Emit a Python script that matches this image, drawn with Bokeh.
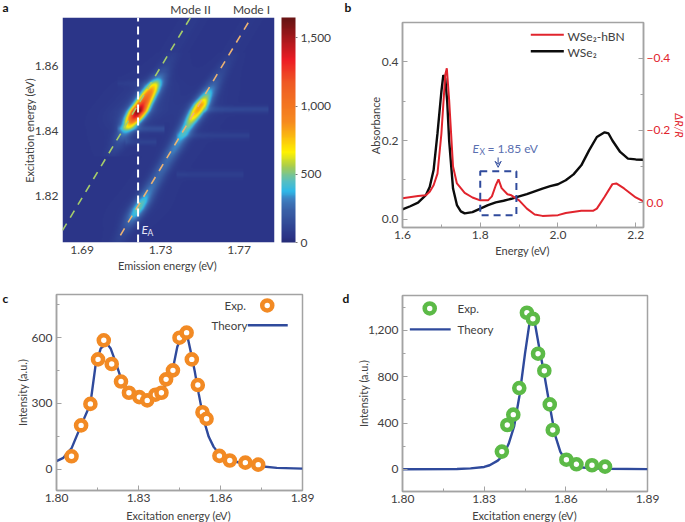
from bokeh.plotting import figure
from bokeh.layouts import row, column
from bokeh.embed import file_html
from bokeh.resources import INLINE
from bokeh.core.properties import value
from bokeh.models import (Range1d, LinearAxis, FixedTicker, NumeralTickFormatter,
                          LinearColorMapper, ColorBar, Arrow, VeeHead)
import numpy as np

FONT = "Lato"
TXT = "#404040"
GREY = "#a3a3a3"
BLUE = "#2f4a9c"
RED = "#e1242d"
ORANGE = "#f28a24"
GREEN = "#5cba47"
SOFT = "#5a6fb0"
PALE = "#e8e8f8"
DARK = "#111111"
MARK_SIZE = 10
MARK_WIDTH = 4.6

# panel a: ridge intensity vs excitation energy
mode1_exc = [1.804, 1.808, 1.810, 1.812, 1.814, 1.816, 1.818, 1.820, 1.822, 1.824, 1.826, 1.828, 1.830, 1.832, 1.834,
             1.836, 1.838, 1.840, 1.842, 1.844, 1.846, 1.848, 1.850, 1.852, 1.854, 1.856, 1.858, 1.860, 1.864]
mode1_amp = [30, 70, 110, 210, 340, 430, 400, 300, 240, 210, 190, 200, 200, 220, 260,
             280, 320, 400, 470, 620, 770, 790, 520, 340, 200, 120, 80, 60, 20]
mode2_exc = [1.832, 1.836, 1.838, 1.840, 1.842, 1.844, 1.846, 1.848, 1.850, 1.852, 1.854, 1.856, 1.858, 1.860, 1.864]
mode2_amp = [30, 100, 200, 330, 750, 1280, 1600, 1250, 1050, 880, 640, 300, 130, 70, 30]
streak_exc = [1.8465, 1.8385, 1.8265, 1.8405, 1.8365, 1.8545]
streak_lo = [1.752, 1.738, 1.738, 1.708, 1.712, 1.708]
streak_hi = [1.785, 1.775, 1.772, 1.732, 1.728, 1.722]
streak_amp = [75, 45, 40, 90, 50, 25]
cmap_values = [0, 40, 240, 315, 375, 450, 560, 660, 880, 1170, 1340, 1630]
cmap_colors = ["#262d78", "#2b3487", "#3a62a8", "#3d7fc0", "#2fb8e8", "#58bfc0", "#a9cd4c", "#fff200",
               "#f68b1f", "#ef5a24", "#ed1c24", "#6b1414"]
mode1_offset = -0.0985
mode2_offset = -0.1295
ridge1_offset = -0.0975
ridge2_offset = -0.1275
EA = 1.7185

# panel b
black_E = [1.60, 1.62, 1.64, 1.66, 1.67, 1.68, 1.69, 1.70, 1.705, 1.71, 1.715, 1.72, 1.73, 1.74, 1.75, 1.76, 1.78,
           1.80, 1.82, 1.84, 1.86, 1.88, 1.90, 1.92, 1.94, 1.96, 1.98, 2.00, 2.02, 2.04, 2.06, 2.08, 2.10, 2.12,
           2.13, 2.14, 2.16, 2.18, 2.20, 2.22]
black_A = [.025, .033, .042, .061, .082, .125, .218, .324, .366, .358, .30, .20, .078, .036, .02, .015, .018,
           .027, .036, .043, .047, .052, .058, .064, .071, .078, .084, .089, .099, .114, .137, .175, .209, .221,
           .218, .20, .171, .154, .152, .151]
red_E = [1.60, 1.64, 1.66, 1.67, 1.68, 1.69, 1.70, 1.71, 1.714, 1.72, 1.73, 1.74, 1.76, 1.78, 1.80, 1.82, 1.83,
         1.84, 1.847, 1.855, 1.87, 1.88, 1.90, 1.92, 1.94, 1.96, 2.00, 2.02, 2.06, 2.09, 2.10, 2.12, 2.14, 2.15,
         2.17, 2.20, 2.22]
red_R = [-.012, -.018, -.02, -.03, -.048, -.08, -.19, -.354, -.372, -.284, -.10, -.053, -.027, -.014, -.006, -.006,
         -.017, -.048, -.064, -.04, -.023, -.02, -.006, .017, .033, .037, .035, .029, .023, .023, .017, -.016,
         -.051, -.053, -.039, -.014, -.003]

# panel c
c_exp_E = [1.8055, 1.809, 1.8124, 1.8152, 1.8173, 1.8202, 1.8236, 1.8265, 1.8303, 1.8332, 1.8362, 1.8384, 1.8401,
           1.8426, 1.845, 1.8476, 1.8495, 1.8517, 1.8534, 1.8549, 1.8596, 1.8634, 1.8691, 1.8738]
c_exp_I = [59, 200, 298, 501, 588, 480, 400, 349, 329, 314, 340, 349, 410, 451, 600, 623, 501, 384, 260, 230, 61,
           40, 30, 21]
c_th_E = [1.80, 1.8025, 1.8055, 1.809, 1.8124, 1.8143, 1.8162, 1.8184, 1.8198, 1.8216, 1.8236, 1.8265, 1.8303, 1.8332,
          1.8362, 1.8393, 1.8426, 1.8442, 1.846, 1.8478, 1.849, 1.8505, 1.852, 1.8539, 1.8557, 1.8575, 1.8596,
          1.8634, 1.8691, 1.8738, 1.8806, 1.89]
c_th_I = [37, 52, 95, 200, 298, 475, 551, 574, 551, 490, 414, 353, 327, 321, 338, 373, 460, 559, 612, 612, 543, 452,
          346, 224, 148, 102, 68, 41, 24, 15, 6, 3]

# panel d
d_exp_E = [1.8365, 1.8385, 1.8407, 1.8429, 1.8457, 1.8479, 1.8498, 1.8521, 1.8541, 1.8552, 1.8602, 1.8639, 1.8696, 1.8744]
d_exp_I = [153, 383, 472, 702, 1353, 1301, 999, 852, 561, 340, 83, 43, 35, 23]
d_th_E = [1.80, 1.82, 1.825, 1.83, 1.832, 1.835, 1.837, 1.839, 1.841, 1.843, 1.845, 1.8465, 1.8475, 1.8485, 1.85,
          1.852, 1.854, 1.856, 1.858, 1.86, 1.862, 1.865, 1.87, 1.875, 1.89]
d_th_I = [0, 3, 8, 20, 35, 75, 120, 220, 370, 640, 1000, 1240, 1310, 1280, 1080, 830, 560, 300, 150, 75, 40, 18, 8, 4, 1]


def style_axis(ax):
    ax.major_label_text_font = FONT
    ax.major_label_text_font_size = "12px"
    ax.major_label_text_color = TXT
    ax.axis_line_color = GREY
    ax.axis_line_width = 1.5
    ax.major_tick_line_color = GREY
    ax.minor_tick_line_color = GREY
    ax.major_tick_in = 5
    ax.major_tick_out = 0
    ax.minor_tick_in = 3
    ax.minor_tick_out = 0


def make(w, h, l, r, t, b, xr, yr):
    p = figure(width=w, height=h, min_border_left=l, min_border_right=r, min_border_top=t, min_border_bottom=b,
               x_range=Range1d(*xr), y_range=Range1d(*yr), toolbar_location=None, output_backend="svg",
               background_fill_color="white", border_fill_color="white")
    p.grid.visible = False
    p.outline_line_color = GREY
    p.outline_line_width = 1.5
    style_axis(p.xaxis[0])
    style_axis(p.yaxis[0])
    p.xaxis.major_label_standoff = 3
    p.yaxis.major_label_standoff = 4
    return p


HALF = np.pi / 2

# ---------- a
pa = make(340, 280, 62, 66, 17, 38, (1.680, 1.788), (1.8058, 1.8747))
pa.outline_line_color = None
pa.xaxis.axis_line_color = None
pa.yaxis.axis_line_color = None
pa.xaxis.major_tick_line_color = None
pa.yaxis.major_tick_line_color = None
pa.xaxis.minor_tick_line_color = None
pa.yaxis.minor_tick_line_color = None
pa.xaxis.ticker = FixedTicker(ticks=[1.69, 1.73, 1.77])
pa.yaxis.ticker = FixedTicker(ticks=[1.82, 1.84, 1.86])
pa.xaxis.formatter = NumeralTickFormatter(format="0.00")
pa.yaxis.formatter = NumeralTickFormatter(format="0.00")

em = np.linspace(1.680, 1.788, 424)
ex = np.linspace(1.8058, 1.8747, 450)
EM, EX = np.meshgrid(em, ex)
a1 = np.interp(ex, mode1_exc, mode1_amp, left=15, right=10)
a2 = np.interp(ex, mode2_exc, mode2_amp, left=0, right=20)
d1 = EM - EX - ridge1_offset
d2 = EM - EX - ridge2_offset
Z = np.full(EM.shape, 50.0)
Z += a1[:, None] * np.exp(-d1**2 / (2 * 0.0028**2)) * 0.95 + a1[:, None] * 0.06 * np.exp(-d1**2 / (2 * 0.007**2))
Z += a2[:, None] * np.exp(-d2**2 / (2 * 0.0030**2)) * 0.93 + a2[:, None] * 0.06 * np.exp(-d2**2 / (2 * 0.009**2))
for e, lo, hi, amp in zip(streak_exc, streak_lo, streak_hi, streak_amp):
    band = np.exp(-(ex - e)**2 / (2 * 0.0007**2))[:, None]
    Z += amp * band * ((em > lo) & (em < hi))[None, :]

vals = np.array(cmap_values, dtype=float)
rgb = np.array([[int(c[i:i + 2], 16) for i in (1, 3, 5)] for c in cmap_colors], dtype=float)
levels = np.linspace(0, 1650, 256)
palette = ["#%02x%02x%02x" % tuple(int(round(np.interp(v, vals, rgb[:, k]))) for k in range(3)) for v in levels]
mapper = LinearColorMapper(palette=palette, low=0, high=1650)
pa.image(image=[Z], x=1.680, y=1.8058, dw=0.108, dh=0.0689, color_mapper=mapper)

line_x = [1.680, 1.788]
pa.line(line_x, [line_x[0] - mode2_offset, line_x[1] - mode2_offset], line_color="#a5cc6a", line_width=1.6, line_dash="8 7")
pa.line([1.7095, 1.788], [1.7095 - mode1_offset, 1.788 - mode1_offset], line_color="#ecb273", line_width=1.6, line_dash="8 7")
pa.line([EA, EA], [1.8058, 1.8747], line_color="white", line_width=2, line_dash="8 5")

bar = ColorBar(color_mapper=mapper, width=14, padding=0, margin=7, location=(7, 0),
               ticker=FixedTicker(ticks=[0, 500, 1000, 1500]),
               formatter=NumeralTickFormatter(format="0,0"), major_label_text_font=FONT,
               major_label_text_font_size="12px", major_label_text_color=TXT, major_tick_line_color="#777777",
               major_tick_in=0, major_tick_out=2, label_standoff=3, minor_tick_line_color=None, bar_line_color=None)
pa.add_layout(bar, "right")

# ---------- b
pb = make(345, 280, 62, 42, 22, 53, (1.6, 2.22), (-0.021, 0.5))
pb.xaxis.ticker = FixedTicker(ticks=[1.6, 1.8, 2.0, 2.2], minor_ticks=[1.7, 1.9, 2.1])
pb.yaxis.ticker = FixedTicker(ticks=[0, 0.2, 0.4], minor_ticks=[0.1, 0.3])
pb.xaxis.formatter = NumeralTickFormatter(format="0.0")
pb.yaxis.formatter = NumeralTickFormatter(format="0.0")
pb.extra_y_ranges = {"dr": Range1d(0.0692, -0.499)}
rax = LinearAxis(y_range_name="dr", ticker=FixedTicker(ticks=[-0.4, -0.2, 0], minor_ticks=[-0.3, -0.1]))
style_axis(rax)
rax.major_label_text_color = RED
rax.major_label_overrides = {-0.4: "\u22120.4", -0.2: "\u22120.2", 0: "0.0"}
rax.major_label_standoff = 3
pb.add_layout(rax, "right")
pb.line(black_E, black_A, line_color="#0c0c0c", line_width=2.4)
pb.line(red_E, red_R, y_range_name="dr", line_color=RED, line_width=2)
pb.quad(left=[1.8], right=[1.893], bottom=[0.010], top=[0.122], fill_color=None, line_color=BLUE, line_width=2, line_dash="7 5")
pb.add_layout(Arrow(end=VeeHead(size=6, line_color=BLUE, line_width=1, fill_color=None), x_start=1.846, y_start=0.157,
                    x_end=1.846, y_end=0.132, line_color=BLUE, line_width=1))
pb.line([1.93, 2.015], [0.469, 0.469], line_color=RED, line_width=2)
pb.line([1.93, 2.015], [0.427, 0.427], line_color="#0c0c0c", line_width=2.4)

# ---------- c
pc = make(340, 242, 56, 38, 14, 32, (1.80, 1.89), (-97, 797))
pc.xaxis.ticker = FixedTicker(ticks=[1.80, 1.83, 1.86, 1.89], minor_ticks=[1.815, 1.845, 1.875])
pc.yaxis.ticker = FixedTicker(ticks=[0, 300, 600], minor_ticks=[150, 450, 750])
pc.xaxis.formatter = NumeralTickFormatter(format="0.00")
pc.line(c_th_E, c_th_I, line_color=BLUE, line_width=2.4)
pc.scatter(c_exp_E, c_exp_I, size=MARK_SIZE, fill_color="white", line_color=ORANGE, line_width=MARK_WIDTH)
pc.line([1.87, 1.8846], [657, 657], line_color=BLUE, line_width=2.4)
pc.scatter([1.8771], [747], size=MARK_SIZE, fill_color="white", line_color=ORANGE, line_width=MARK_WIDTH)

# ---------- d
pd_ = make(345, 242, 62, 38, 15, 31, (1.80, 1.89), (-192, 1502))
pd_.xaxis.ticker = FixedTicker(ticks=[1.80, 1.83, 1.86, 1.89], minor_ticks=[1.815, 1.845, 1.875])
pd_.yaxis.ticker = FixedTicker(ticks=[0, 400, 800, 1200], minor_ticks=[200, 600, 1000, 1400])
pd_.xaxis.formatter = NumeralTickFormatter(format="0.00")
pd_.yaxis.formatter = NumeralTickFormatter(format="0,0")
pd_.line(d_th_E, d_th_I, line_color=BLUE, line_width=2.4)
pd_.scatter(d_exp_E, d_exp_I, size=MARK_SIZE, fill_color="white", line_color=GREEN, line_width=MARK_WIDTH)
pd_.line([1.8027, 1.8177], [1209, 1209], line_color=BLUE, line_width=2.4)
pd_.scatter([1.81], [1390], size=MARK_SIZE, fill_color="white", line_color=GREEN, line_width=MARK_WIDTH)

# ---------- a transparent text layer over the whole page, in page pixels
layer = figure(width=685, height=522, min_border=0, x_range=Range1d(0, 685), y_range=Range1d(522, 0),
               toolbar_location=None, output_backend="svg", margin=(-522, 0, 0, 0),
               background_fill_alpha=0, border_fill_alpha=0, outline_line_color=None)
layer.axis.visible = False
layer.grid.visible = False


def note(px, py, text, size="11px", color=TXT, style="normal", angle=0, align="left"):
    layer.text([px], [py], text=[text], text_font=value(FONT), text_font_size=value(size), text_color=color,
               text_font_style=style, text_baseline="middle", text_align=align, angle=angle)


note(190, 9, "Mode II", "12px", align="center")
note(251, 9, "Mode I", "12px", align="center")
note(141, 229, "E", "12px", PALE, "italic")
note(147, 232, "A", "8.5px", PALE)
note(2, 7, "a", "12px", DARK, "bold")
note(167, 265, "Emission energy (eV)", align="center")
note(29, 130, "Excitation energy (eV)", angle=HALF, align="center")

note(567, 36, "WSe\u2082-hBN", "12px")
note(567, 52, "WSe\u2082", "12px")
note(472, 148, "E", "12px", SOFT, "italic")
note(479, 151, "X", "8.5px", SOFT)
note(487, 148, "= 1.85 eV", "12px", SOFT)
note(344, 7, "b", "12px", DARK, "bold")
note(522, 250, "Energy (eV)", align="center")
note(375, 125, "Absorbance", angle=HALF, align="center")
note(679, 125, "\u0394R/R", color=RED, style="italic", angle=-HALF, align="center")

note(224, 305, "Exp.", "11.5px")
note(211, 325, "Theory", "11.5px")
note(2, 298, "c", "12px", DARK, "bold")
note(178, 515, "Excitation energy (eV)", align="center")
note(22, 392, "Intensity (a.u.)", angle=HALF, align="center")

note(457, 308, "Exp.", "11.5px")
note(457, 329, "Theory", "11.5px")
note(342, 298, "d", "12px", DARK, "bold")
note(524, 515, "Excitation energy (eV)", align="center")
note(363, 393, "Intensity (a.u.)", angle=HALF, align="center")

top = row(column(pa), column(pb), spacing=0)
bottom = row(column(pc), column(pd_), spacing=0)
root = column(top, bottom, layer, spacing=0, margin=0)
open("out.html", "w").write(file_html(root, INLINE))
